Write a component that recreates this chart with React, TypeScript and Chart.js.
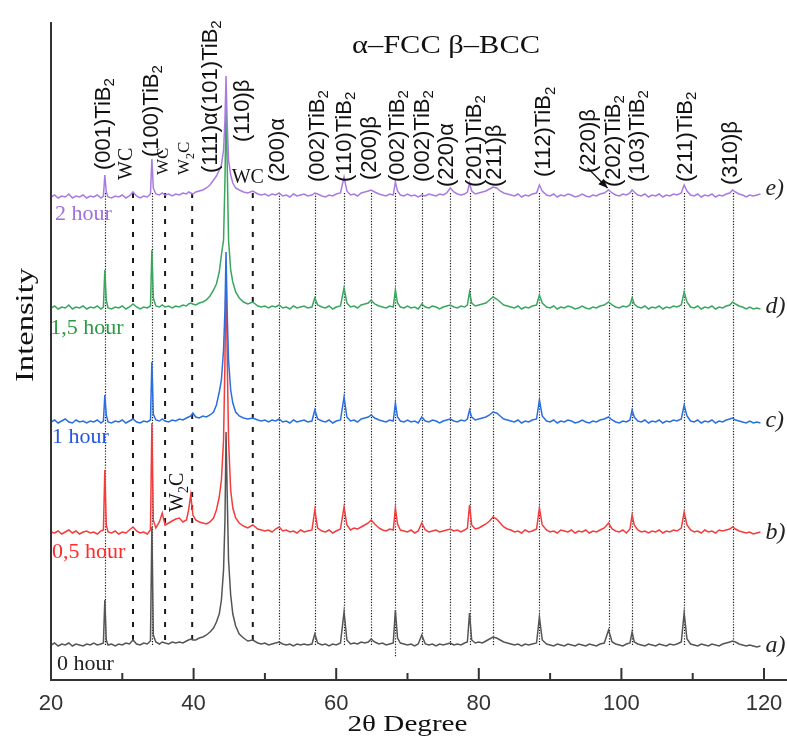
import React, { useEffect, useRef } from "react";
import { Chart, registerables } from "chart.js";

Chart.register(...registerables);

// 2θ grid (degrees)
const twoTheta = [
  20, 20.5, 21, 21.5, 22, 22.5, 23, 23.5, 24, 24.5,
  25, 25.5, 26, 26.5, 27, 27.35, 27.55, 27.75, 28, 28.5,
  29, 29.5, 30, 30.5, 31, 31.5, 32, 32.5, 33, 33.5,
  33.95, 34.15, 34.35, 34.7, 35.2, 35.6, 36, 36.5, 37, 37.5,
  38, 38.5, 39, 39.3, 39.6, 39.9, 40.3, 40.8, 41.3, 41.8,
  42.3, 42.8, 43.2, 43.6, 43.9, 44.2, 44.4, 44.55, 44.7, 44.9,
  45.2, 45.5, 45.9, 46.4, 47, 47.6, 48.3, 49, 49.5, 50,
  50.5, 51, 51.5, 52, 52.5, 53, 53.5, 54, 54.5, 55,
  55.5, 56, 56.6, 57, 57.4, 58, 58.5, 59, 59.5, 60,
  60.6, 61.1, 61.5, 62, 62.5, 63, 63.5, 64, 64.5, 64.9,
  65.4, 66, 66.5, 67, 67.5, 68, 68.3, 68.6, 69, 69.5,
  70, 70.5, 71, 71.5, 72, 72.5, 73, 73.5, 74, 74.5,
  75, 75.5, 76, 76.5, 77, 77.5, 78, 78.4, 78.7, 79,
  79.5, 80, 80.5, 81, 81.5, 82, 82.5, 83, 83.5, 84,
  84.5, 85, 85.5, 86, 86.5, 87, 87.5, 88.1, 88.5, 88.9,
  89.5, 90, 90.5, 91, 91.5, 92, 92.5, 93, 93.5, 94,
  94.5, 95, 95.5, 96, 96.5, 97, 97.6, 98.2, 98.7, 99.2,
  99.7, 100.2, 100.7, 101.2, 101.5, 101.8, 102.3, 102.8, 103.3, 103.8,
  104.3, 104.8, 105.3, 105.8, 106.3, 106.8, 107.3, 107.8, 108.4, 108.8,
  109.2, 109.7, 110.2, 110.7, 111.2, 111.7, 112.2, 112.7, 113.2, 113.7,
  114.2, 114.7, 115.2, 115.6, 116, 116.5, 117, 117.5, 118, 118.5,
  119, 119.5,
];

// a) 0 hour
const int0h = [
  35, 37, 34, 36, 35, 37, 34, 36, 35, 34,
  36, 35, 37, 35, 36, 37, 80, 40, 35, 36,
  34, 36, 35, 37, 36, 40, 36, 35, 37, 36,
  39, 153, 45, 38, 36, 38, 37, 36, 38, 37,
  38, 37, 39, 40, 41, 40, 40, 42, 43, 45,
  48, 52, 58, 66, 80, 110, 160, 248, 190, 120,
  85, 66, 54, 46, 42, 39, 40, 37, 36, 37,
  35, 36, 37, 38, 36, 35, 36, 34, 36, 35,
  36, 35, 36, 46, 37, 35, 36, 34, 36, 35,
  37, 68, 40, 36, 37, 36, 38, 37, 38, 41,
  38, 36, 37, 35, 36, 37, 70, 42, 37, 36,
  35, 36, 34, 36, 45, 36, 35, 36, 34, 36,
  35, 36, 37, 35, 36, 35, 37, 38, 67, 40,
  37, 38, 37, 39, 41, 43, 42, 40, 38, 37,
  36, 35, 36, 34, 36, 35, 36, 37, 63, 40,
  36, 35, 34, 36, 35, 34, 36, 35, 34, 36,
  35, 34, 36, 35, 34, 36, 37, 50, 38, 36,
  35, 34, 36, 37, 48, 38, 36, 35, 34, 36,
  35, 34, 36, 35, 34, 36, 35, 36, 38, 67,
  41, 36, 35, 34, 36, 35, 34, 36, 35, 34,
  36, 37, 38, 39, 38, 36, 35, 34, 35, 34,
  33, 34,
];

// b) 0,5 hour
const int05h = [
  148, 147, 149, 146, 148, 150, 147, 149, 146, 148,
  149, 147, 148, 146, 149, 150, 210, 155, 148, 147,
  149, 146, 148, 147, 150, 153, 149, 147, 148, 146,
  150, 257, 160, 152, 158, 167, 155, 157, 159, 161,
  162, 158, 160, 170, 185, 165, 160, 158, 157, 156,
  158, 162, 170, 183, 200, 240, 320, 412, 330, 240,
  190, 172, 162, 157, 154, 152, 155, 151, 150, 149,
  150, 148, 151, 153, 149, 150, 148, 149, 147, 150,
  148, 149, 150, 170, 152, 149, 148, 150, 147, 149,
  151, 173, 155, 150, 152, 151, 153, 155, 157, 160,
  156, 152, 150, 149, 151, 150, 172, 156, 150, 149,
  148, 150, 147, 149, 157, 150, 148, 149, 150, 148,
  149, 150, 151, 149, 150, 148, 150, 152, 175, 155,
  151, 152, 154, 156, 159, 163, 161, 157, 153, 151,
  150, 148, 149, 147, 150, 148, 149, 151, 172, 155,
  150, 148, 149, 147, 150, 149, 148, 150, 147, 149,
  148, 150, 147, 149, 148, 150, 152, 157, 151, 149,
  148, 150, 147, 151, 165, 155, 150, 148, 149, 147,
  149, 148, 150, 147, 149, 148, 150, 149, 152, 168,
  155, 150, 148, 149, 147, 150, 148, 149, 147, 150,
  149, 150, 151, 153, 151, 149, 148, 147, 148, 146,
  147, 148,
];

// c) 1 hour
const int1h = [
  258, 260, 257, 259, 261, 258, 257, 260, 258, 259,
  257, 259, 258, 260, 257, 259, 285, 265, 258, 257,
  259, 258, 260, 257, 259, 261, 258, 257, 259, 258,
  260, 318, 266, 260, 259, 261, 259, 258, 260, 259,
  261, 260, 262, 263, 264, 267, 263, 262, 264, 263,
  265, 268, 275, 288, 300, 330, 370, 428, 370, 320,
  290, 277, 268, 264, 262, 261, 262, 260, 259, 260,
  258, 260, 259, 261, 258, 259, 257, 260, 258, 259,
  260, 258, 259, 270, 261, 259, 258, 260, 257, 259,
  260, 283, 263, 259, 260, 258, 261, 262, 263, 265,
  262, 260, 259, 258, 260, 259, 277, 263, 259, 258,
  260, 258, 259, 257, 263, 259, 258, 260, 259, 257,
  259, 260, 261, 259, 258, 260, 259, 261, 270, 263,
  260, 261, 262, 263, 265, 268, 267, 264, 261, 260,
  259, 258, 260, 257, 259, 258, 260, 261, 280, 264,
  259, 258, 260, 257, 259, 258, 260, 259, 257, 258,
  260, 258, 257, 259, 258, 260, 261, 263, 260, 258,
  257, 259, 258, 260, 270, 263, 259, 258, 260, 257,
  259, 258, 260, 257, 259, 258, 260, 259, 261, 275,
  264, 259, 258, 260, 257, 259, 258, 260, 257, 259,
  258, 260, 261, 262, 260, 259, 258, 257, 259, 257,
  258, 257,
];

// d) 1,5 hour
const int15h = [
  372, 374, 371, 373, 372, 375, 371, 373, 372, 374,
  371, 373, 372, 374, 371, 373, 410, 380, 372, 371,
  373, 372, 374, 371, 373, 376, 373, 371, 373, 372,
  374, 430, 382, 374, 373, 375, 373, 374, 372, 374,
  373, 375, 374, 376, 377, 376, 375, 377, 378, 380,
  384, 390, 396, 408, 425, 440, 500, 575, 520, 440,
  410, 398, 388, 382, 378, 376, 378, 374, 373, 374,
  372, 374, 373, 375, 372, 373, 371, 374, 372, 373,
  374, 372, 373, 382, 375, 373, 372, 374, 371, 373,
  374, 392, 377, 373, 374, 372, 375, 376, 377, 380,
  376, 374, 373, 372, 374, 373, 390, 377, 373, 372,
  374, 372, 373, 371, 376, 373, 372, 374, 373, 371,
  373, 374, 375, 373, 372, 374, 373, 375, 388, 377,
  374, 375, 376, 377, 380, 383, 381, 378, 375, 374,
  373, 372, 374, 371, 373, 372, 374, 375, 385, 377,
  373, 372, 374, 371, 373, 372, 374, 373, 371, 372,
  374, 372, 371, 373, 372, 374, 375, 378, 375, 373,
  372, 374, 373, 375, 382, 376, 373, 372, 374, 371,
  373, 372, 374, 371, 373, 372, 374, 373, 375, 388,
  378, 373, 372, 374, 371, 373, 372, 374, 371, 373,
  372, 374, 375, 378, 376, 374, 373, 371, 373, 371,
  372, 371,
];

// e) 2 hour
const int2h = [
  483, 485, 482, 484, 483, 486, 482, 484, 483, 485,
  482, 484, 483, 485, 482, 484, 505, 488, 483, 482,
  484, 483, 485, 482, 484, 488, 484, 482, 484, 483,
  486, 521, 492, 486, 485, 487, 485, 486, 484, 486,
  485, 487, 486, 488, 487, 486, 488, 489, 490, 492,
  495, 500, 504, 510, 515, 530, 560, 604, 560, 520,
  505, 497, 492, 490, 488, 487, 489, 486, 485, 486,
  484, 486, 485, 487, 484, 485, 483, 486, 484, 485,
  486, 484, 485, 487, 486, 484, 483, 485, 484, 486,
  487, 503, 489, 485, 486, 484, 487, 488, 489, 490,
  488, 486, 485, 484, 486, 485, 498, 489, 485, 484,
  486, 484, 485, 483, 485, 484, 486, 485, 484, 486,
  485, 487, 492, 488, 486, 485, 486, 488, 497, 489,
  486, 487, 488, 489, 491, 493, 492, 489, 487, 486,
  485, 484, 486, 483, 485, 484, 486, 487, 495, 489,
  485, 484, 486, 483, 485, 484, 486, 485, 483, 484,
  486, 484, 483, 485, 484, 486, 487, 490, 487, 485,
  484, 486, 485, 487, 490, 488, 485, 484, 486, 483,
  485, 484, 486, 483, 485, 484, 486, 485, 487, 495,
  489, 485, 484, 486, 483, 485, 484, 486, 483, 485,
  484, 486, 487, 490, 488, 486, 485, 483, 485, 484,
  485, 486,
];

const xTickValues = [20, 40, 60, 80, 100, 120];
const xMinorTicks = [30, 50, 70, 90, 110];

// reflection marker lines (2θ)
const dottedLines = [27.55, 34.15, 52.0, 57.0, 61.1, 64.9, 68.3, 72.0, 76.0, 78.7, 82.0, 88.5, 98.2, 101.5, 108.8, 115.6];
const dashedLines = [31.5, 36.0, 39.8, 48.3];

// reflection labels: text ("_" marks a subscript char), 2θ, intensity at label start
const peakLabelText = [
  "(001)TiB_2", "(100)TiB_2", "(111)α(101)TiB_2", "(110)β", "(200)α", "(002)TiB_2", "(110)TiB_2",
  "(200)β", "(002)TiB_2", "(002)TiB_2", "(220)α", "(201)TiB_2", "(211)β", "(112)TiB_2",
  "(220)β", "(202)TiB_2", "(103)TiB_2", "(211)TiB_2", "(310)β",
];
const peakLabelX = [27.42, 34.16, 42.4, 46.9, 51.8, 57.4, 61.2, 64.7, 68.6, 72.1, 75.6, 79.4, 82.2, 89.2, 95.5, 99.0, 102.3, 109.1, 115.4];
const peakLabelY = [510, 523, 507, 538, 498, 498, 498, 500, 498, 498, 493, 493, 493, 503, 507, 493, 498, 498, 495];

const carbideText = ["WC", "WC", "W_2C", "W_2C"];
const carbideX = [30.65, 35.84, 38.78, 37.8];
const carbideY = [500, 505, 505, 168];

const hourLabels = ["2 hour", "1,5 hour", "1 hour", "0,5 hour", "0 hour"];
const hourX = [20.56, 19.9, 20.14, 20.14, 20.84];
const hourY = [460, 346, 237, 122, 10];
const curveTags = ["e)", "d)", "c)", "b)", "a)"];
const curveTagY = [491, 373, 259, 147, 34];

const seriesColors = ["#a97be2", "#3aa65e", "#2a6fe0", "#f43c3c", "#555555"];
const hourColors = ["#a070e0", "#2a9a45", "#2456e6", "#ff2a2a", "#222222"];

function drawVLabel(ctx: CanvasRenderingContext2D, label: string, x: number, y: number, font: string, subFont: string) {
  const parts: { t: string; sub: boolean }[] = [];
  let buf = "";
  for (let i = 0; i < label.length; i++) {
    if (label[i] === "_" && i + 1 < label.length) {
      if (buf) parts.push({ t: buf, sub: false });
      buf = "";
      parts.push({ t: label[i + 1], sub: true });
      i++;
    } else buf += label[i];
  }
  if (buf) parts.push({ t: buf, sub: false });
  ctx.save();
  ctx.translate(x, y);
  ctx.rotate(-Math.PI / 2);
  ctx.textAlign = "left";
  ctx.textBaseline = "middle";
  let pos = 0;
  for (const p of parts) {
    ctx.font = p.sub ? subFont : font;
    ctx.fillText(p.t, pos, p.sub ? 6 : 0);
    pos += ctx.measureText(p.t).width;
  }
  ctx.restore();
}

function drawFitted(ctx: CanvasRenderingContext2D, text: string, cx: number, cy: number, font: string, length: number, rotate: boolean) {
  ctx.save();
  ctx.font = font;
  const w = ctx.measureText(text).width;
  ctx.translate(cx, cy);
  if (rotate) ctx.rotate(-Math.PI / 2);
  ctx.scale(length / w, 1);
  ctx.textAlign = "center";
  ctx.textBaseline = "middle";
  ctx.fillText(text, 0, 0);
  ctx.restore();
}

const overlayPlugin = {
  id: "overlay",
  beforeDatasetsDraw(chart: any) {
    const ctx: CanvasRenderingContext2D = chart.ctx;
    const xs = chart.scales.x;
    const ys = chart.scales.y;
    ctx.save();
    ctx.strokeStyle = "#1a1a1a";
    ctx.lineWidth = 1.2;
    ctx.setLineDash([1.2, 1.6]);
    for (const v of dottedLines) {
      const px = Math.round(xs.getPixelForValue(v)) + 0.5;
      ctx.beginPath();
      ctx.moveTo(px, ys.getPixelForValue(487));
      ctx.lineTo(px, ys.getPixelForValue(v === 68.3 ? 23 : 35));
      ctx.stroke();
    }
    ctx.lineWidth = 2;
    ctx.setLineDash([5, 8]);
    for (const v of dashedLines) {
      const px = xs.getPixelForValue(v);
      ctx.beginPath();
      ctx.moveTo(px, ys.getPixelForValue(487));
      ctx.lineTo(px, ys.getPixelForValue(35));
      ctx.stroke();
    }
    ctx.restore();
  },
  afterDraw(chart: any) {
    const ctx: CanvasRenderingContext2D = chart.ctx;
    const xs = chart.scales.x;
    const ys = chart.scales.y;
    const area = chart.chartArea;
    ctx.save();
    // axes
    ctx.strokeStyle = "#333";
    ctx.lineWidth = 2;
    ctx.setLineDash([]);
    ctx.beginPath();
    ctx.moveTo(area.left, area.top);
    ctx.lineTo(area.left, area.bottom + 1);
    ctx.moveTo(area.left - 1, area.bottom);
    ctx.lineTo(chart.width, area.bottom);
    ctx.stroke();
    for (const v of xTickValues.slice(1)) {
      const px = xs.getPixelForValue(v);
      ctx.beginPath();
      ctx.moveTo(px, area.bottom);
      ctx.lineTo(px, area.bottom - 12);
      ctx.stroke();
    }
    for (const v of xMinorTicks) {
      const px = xs.getPixelForValue(v);
      ctx.beginPath();
      ctx.moveTo(px, area.bottom);
      ctx.lineTo(px, area.bottom - 7);
      ctx.stroke();
    }
    // tick labels
    ctx.fillStyle = "#333";
    ctx.font = "22px 'Liberation Sans'";
    ctx.textAlign = "center";
    ctx.textBaseline = "middle";
    for (const v of xTickValues) {
      ctx.fillText(String(v), xs.getPixelForValue(v), area.bottom + 24);
    }
    // titles
    ctx.fillStyle = "#111";
    drawFitted(ctx, "α–FCC β–BCC", 446, 46, "25px 'Liberation Serif'", 188, false);
    drawFitted(ctx, "2θ Degree", (area.left + area.right) / 2, 725, "24px 'Liberation Serif'", 120, false);
    drawFitted(ctx, "Intensity", 26, 325, "26px 'Liberation Serif'", 114, true);

    // reflection labels
    ctx.fillStyle = "#111";
    for (let i = 0; i < peakLabelText.length; i++) {
      drawVLabel(ctx, peakLabelText[i], xs.getPixelForValue(peakLabelX[i]), ys.getPixelForValue(peakLabelY[i]),
        "22px 'Liberation Sans'", "15px 'Liberation Sans'");
    }
    for (let i = 0; i < carbideText.length; i++) {
      const big = i === 0 || i === 3;
      drawVLabel(ctx, carbideText[i], xs.getPixelForValue(carbideX[i]), ys.getPixelForValue(carbideY[i]),
        big ? "20px 'Liberation Serif'" : "17px 'Liberation Serif'", big ? "14px 'Liberation Serif'" : "12px 'Liberation Serif'");
    }
    ctx.font = "20px 'Liberation Serif'";
    ctx.textAlign = "center";
    ctx.textBaseline = "middle";
    ctx.fillText("WC", xs.getPixelForValue(47.6), ys.getPixelForValue(502));

    // arrow to (202)TiB2 / (220)β
    const ax0 = xs.getPixelForValue(95.26), ay0 = ys.getPixelForValue(512);
    const ax1 = xs.getPixelForValue(98.06), ay1 = ys.getPixelForValue(492);
    ctx.strokeStyle = "#111";
    ctx.lineWidth = 1.2;
    ctx.beginPath();
    ctx.moveTo(ax0, ay0);
    ctx.lineTo(ax1, ay1);
    ctx.stroke();
    const ang = Math.atan2(ay1 - ay0, ax1 - ax0);
    ctx.beginPath();
    ctx.moveTo(ax1, ay1);
    ctx.lineTo(ax1 - 10 * Math.cos(ang - 0.4), ay1 - 10 * Math.sin(ang - 0.4));
    ctx.lineTo(ax1 - 10 * Math.cos(ang + 0.4), ay1 - 10 * Math.sin(ang + 0.4));
    ctx.closePath();
    ctx.fillStyle = "#111";
    ctx.fill();

    // hour labels
    ctx.textAlign = "left";
    ctx.textBaseline = "alphabetic";
    ctx.font = "22px 'Liberation Serif'";
    for (let i = 0; i < hourLabels.length; i++) {
      ctx.fillStyle = hourColors[i];
      ctx.fillText(hourLabels[i], xs.getPixelForValue(hourX[i]), ys.getPixelForValue(hourY[i]));
    }
    // curve tags
    ctx.fillStyle = "#222";
    ctx.font = "italic 24px 'Liberation Serif'";
    ctx.textBaseline = "middle";
    for (let i = 0; i < curveTags.length; i++) {
      ctx.fillText(curveTags[i], xs.getPixelForValue(120.2), ys.getPixelForValue(curveTagY[i]));
    }
    ctx.restore();
  },
};

export default function App() {
  const ref = useRef<HTMLCanvasElement | null>(null);
  useEffect(() => {
    document.body.style.margin = "0";
    const canvas = ref.current;
    if (!canvas) return;
    const series = [int2h, int15h, int1h, int05h, int0h];
    const chart = new Chart(canvas, {
      type: "line",
      data: {
        datasets: series.map((s, k) => ({
          label: hourLabels[k],
          data: twoTheta.map((x, i) => ({ x, y: s[i] })),
          borderColor: seriesColors[k],
          borderWidth: 1.5,
          pointRadius: 0,
          fill: false,
          tension: 0,
        })),
      },
      options: {
        animation: false,
        responsive: false,
        devicePixelRatio: 1,
        layout: { padding: { left: 51, right: 23, top: 22, bottom: 60 } },
        plugins: { legend: { display: false }, tooltip: { enabled: false } },
        scales: {
          x: {
            type: "linear",
            min: 20,
            max: 120,
            afterBuildTicks: (scale: any) => {
              scale.ticks = xTickValues.map((v) => ({ value: v }));
            },
            grid: { display: false, drawTicks: false },
            border: { display: false },
            ticks: { display: false },
          },
          y: { display: false, min: 0, max: 658 },
        },
      },
      plugins: [overlayPlugin],
    } as any);
    return () => chart.destroy();
  }, []);
  return <canvas ref={ref} width={787} height={740} style={{ display: "block", width: 787, height: 740 }} />;
}
